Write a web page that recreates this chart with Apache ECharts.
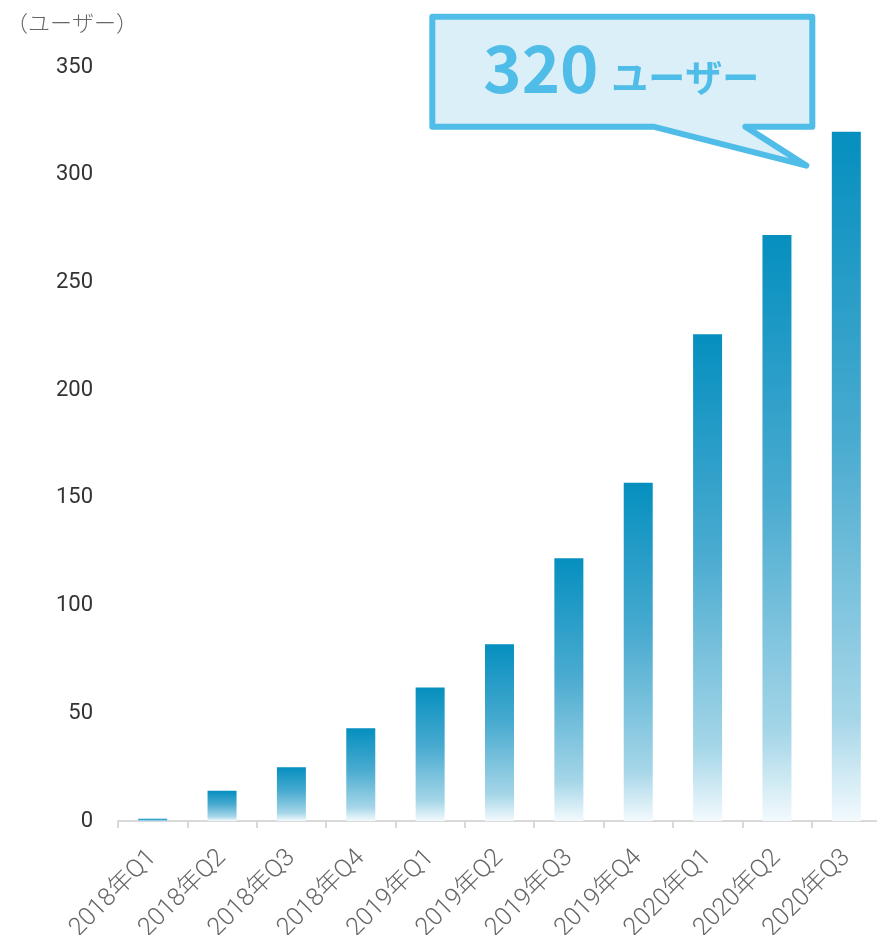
<!DOCTYPE html>
<html>
<head>
<meta charset="utf-8">
<script src="https://cdn.jsdelivr.net/npm/echarts@6/dist/echarts.min.js"></script>
<style>
  html, body { margin: 0; padding: 0; background: #ffffff; }
  #chart { width: 877px; height: 935px; }
</style>
</head>
<body>
<div id="chart"></div>
<script>
// Quarterly user counts
const quarters = ['2018年Q1', '2018年Q2', '2018年Q3', '2018年Q4', '2019年Q1', '2019年Q2',
                  '2019年Q3', '2019年Q4', '2020年Q1', '2020年Q2', '2020年Q3'];
const users = [1, 14, 25, 43, 62, 82, 122, 157, 226, 272, 320];
const axisMin = 0;
const axisMax = 350;
const axisStep = 50;
const unitName = 'ユーザー';
const axisTitle = '（ユーザー）';

const FONT = "Roboto, 'Noto Sans CJK JP', sans-serif";
const JP_FONT = "'Noto Sans CJK JP', sans-serif";
const CALLOUT_BLUE = '#4FBDE8';

const chart = echarts.init(document.getElementById('chart'), null, { renderer: 'canvas' });

chart.setOption({
  animation: false,
  backgroundColor: '#ffffff',
  title: {
    text: axisTitle,
    left: 1,
    top: 7,
    textStyle: { fontFamily: JP_FONT, fontSize: 22, fontWeight: 300, color: '#666666' }
  },
  grid: {
    left: 118, top: 67, width: 763, bottom: 114,
    containLabel: false,
    outerBoundsMode: 'none'
  },
  xAxis: {
    type: 'category',
    data: quarters,
    axisLine: { lineStyle: { color: '#D9D9D9', width: 2 } },
    axisTick: { show: true, length: 7, lineStyle: { color: '#D9D9D9', width: 2 } },
    axisLabel: {
      interval: 0,
      rotate: 45,
      margin: 33,
      fontFamily: FONT,
      fontWeight: 300,
      fontSize: 25,
      color: '#666666'
    }
  },
  yAxis: {
    type: 'value',
    min: axisMin,
    max: axisMax,
    interval: axisStep,
    axisLine: { show: false },
    axisTick: { show: false },
    splitLine: { show: false },
    axisLabel: { margin: 25, fontFamily: FONT, fontSize: 22, color: '#333333' }
  },
  series: [{
    type: 'bar',
    data: users,
    barWidth: 29,
    itemStyle: {
      color: new echarts.graphic.LinearGradient(0, 0, 0, 1, [
        { offset: 0, color: '#058FBF' },
        { offset: 0.45, color: '#4AABD0' },
        { offset: 0.85, color: '#A5D6E8' },
        { offset: 1, color: '#F3FAFD' }
      ])
    }
  }]
});

// Speech-bubble callout pointing at the latest quarter's bar
function drawCallout() {
  const last = users.length - 1;
  const [ax, ay] = chart.convertToPixel({ xAxisIndex: 0, yAxisIndex: 0 }, [last, users[last]]);
  const L = ax - 414, R = ax - 34, T = ay - 115, B = ay - 5;
  const tailRight = ax - 101, tailLeft = ax - 193;
  const tip = [ax - 40, ay + 34];
  chart.setOption({
    graphic: [
      {
        type: 'polygon',
        z: 100,
        shape: {
          points: [[L, T], [R, T], [R, B], [tailRight, B], tip, [tailLeft, B], [L, B]]
        },
        style: { fill: '#DAEFF8', stroke: CALLOUT_BLUE, lineWidth: 6, lineJoin: 'round' }
      },
      {
        type: 'text',
        z: 101,
        x: L + 51,
        y: T + 52,
        style: {
          text: String(users[last]),
          fontFamily: JP_FONT,
          fontWeight: 'bold',
          fontSize: 65,
          fill: CALLOUT_BLUE,
          align: 'left',
          verticalAlign: 'middle'
        }
      },
      {
        type: 'text',
        z: 101,
        x: L + 179,
        y: T + 61,
        style: {
          text: unitName,
          fontFamily: JP_FONT,
          fontWeight: 'bold',
          fontSize: 37,
          fill: CALLOUT_BLUE,
          align: 'left',
          verticalAlign: 'middle'
        }
      }
    ]
  });
}
drawCallout();
</script>
</body>
</html>
